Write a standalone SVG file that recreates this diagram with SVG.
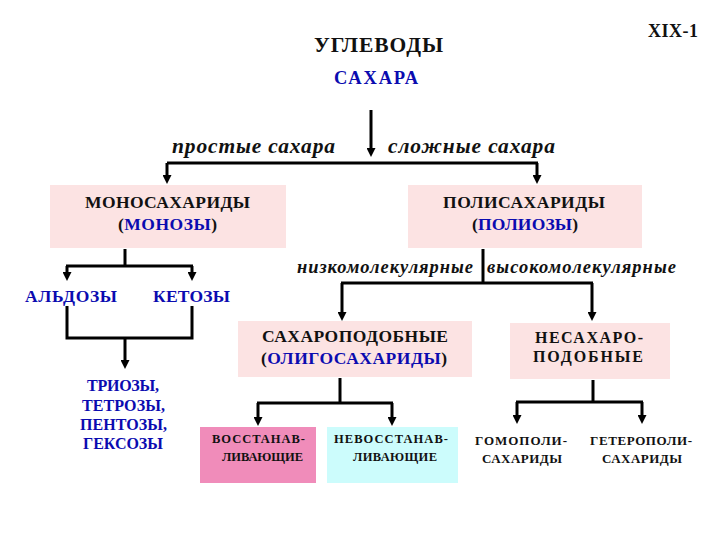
<svg xmlns="http://www.w3.org/2000/svg" width="720" height="540" viewBox="0 0 720 540">
<style>
text{font-family:'Liberation Serif','Times New Roman','DejaVu Serif',serif;font-weight:bold;fill:#111;}
.c{text-anchor:middle;}
.b{fill:#0b0bb0;}
.it{font-style:italic;}
.box{fill:#fce3e3;}
.ln{fill:none;stroke:#000;stroke-width:3;}
.ar{marker-end:url(#ah);}
</style>
<defs>
<marker id="ah" viewBox="0 0 10 10" markerWidth="10" markerHeight="9" refX="1" refY="5" orient="auto" markerUnits="userSpaceOnUse">
<path d="M0,0 L10,5 L0,10 z" fill="#000"/>
</marker>
</defs>
<rect width="720" height="540" fill="#fff"/>

<g id="connectors">
<path class="ln ar" d="M371,110 V149"/>
<path class="ln" d="M167,163 H538"/>
<path class="ln ar" d="M167,163 V176"/>
<path class="ln ar" d="M537,163 V176"/>

<path class="ln" d="M125,249 V266"/>
<path class="ln" d="M66,266 H193"/>
<path class="ln ar" d="M67,266 V273"/>
<path class="ln ar" d="M192,266 V273"/>
<path class="ln" d="M67,306 V338 H192 V306"/>
<path class="ln ar" d="M125,338 V361"/>

<path class="ln" d="M483,249 V283"/>
<path class="ln" d="M341,283 H593"/>
<path class="ln ar" d="M342,283 V313"/>
<path class="ln ar" d="M592,283 V313"/>

<path class="ln" d="M340,378 V403"/>
<path class="ln" d="M257,403 H393"/>
<path class="ln ar" d="M258,403 V418"/>
<path class="ln ar" d="M392,403 V418"/>

<path class="ln" d="M593,380 V402"/>
<path class="ln" d="M516,402 H643"/>
<path class="ln ar" d="M517,402 V416"/>
<path class="ln ar" d="M642,402 V416"/>
</g>

<g id="title">
<text class="c" x="378.5" y="52" font-size="21.5" textLength="129">УГЛЕВОДЫ</text>
</g>
<g id="page-number">
<text class="c" x="673" y="37" font-size="18" textLength="50">XIX-1</text>
</g>
<g id="sahara">
<text class="c b" x="376" y="84" font-size="18.5" textLength="84">САХАРА</text>
</g>
<g id="label-simple">
<text class="c it" x="253.5" y="153" font-size="21.5" textLength="163">простые сахара</text>
</g>
<g id="label-complex">
<text class="c it" x="471.5" y="153" font-size="21.5" textLength="167">сложные сахара</text>
</g>

<g id="monosaccharides">
<rect class="box" x="50" y="185" width="236" height="63"/>
<text class="c" x="167.5" y="208" font-size="17.5" textLength="165">МОНОСАХАРИДЫ</text>
<text class="c" x="167.5" y="230" font-size="17.5" textLength="99">(<tspan class="b">МОНОЗЫ</tspan>)</text>
</g>

<g id="polysaccharides">
<rect class="box" x="408" y="185" width="234" height="63"/>
<text class="c" x="524" y="208" font-size="17.5" textLength="162">ПОЛИСАХАРИДЫ</text>
<text class="c" x="525" y="230" font-size="17.5" textLength="106">(<tspan class="b">ПОЛИОЗЫ</tspan>)</text>
</g>

<g id="aldozy">
<text class="c b" x="71" y="302" font-size="17.5" textLength="92">АЛЬДОЗЫ</text>
</g>
<g id="ketozy">
<text class="c b" x="191.5" y="302" font-size="17.5" textLength="77">КЕТОЗЫ</text>
</g>

<g id="trioses">
<text class="c b" x="123" y="391" font-size="16" textLength="72">ТРИОЗЫ,</text>
<text class="c b" x="123.5" y="411" font-size="16" textLength="83">ТЕТРОЗЫ,</text>
<text class="c b" x="123.5" y="430" font-size="16" textLength="87">ПЕНТОЗЫ,</text>
<text class="c b" x="123" y="449" font-size="16" textLength="80">ГЕКСОЗЫ</text>
</g>

<g id="label-low">
<text class="c it" x="385" y="273" font-size="18.5" textLength="176">низкомолекулярные</text>
</g>
<g id="label-high">
<text class="c it" x="581.5" y="273" font-size="18.5" textLength="189">высокомолекулярные</text>
</g>

<g id="oligosaccharides">
<rect class="box" x="238" y="321" width="234" height="56"/>
<text class="c" x="355" y="342" font-size="17.5" textLength="186">САХАРОПОДОБНЫЕ</text>
<text class="c" x="354" y="364" font-size="17.5" textLength="186">(<tspan class="b">ОЛИГОСАХАРИДЫ</tspan>)</text>
</g>

<g id="non-sugarlike">
<rect class="box" x="510" y="323" width="160" height="56"/>
<text class="c" x="589" y="343" font-size="16" textLength="108">НЕСАХАРО-</text>
<text class="c" x="588" y="362" font-size="16" textLength="110">ПОДОБНЫЕ</text>
</g>

<g id="reducing">
<rect x="200" y="427" width="116" height="56" fill="#f08cba"/>
<text class="c" x="258.5" y="443" font-size="12.5" textLength="93">ВОССТАНАВ-</text>
<text class="c" x="262.5" y="461" font-size="12.5" textLength="81">ЛИВАЮЩИЕ</text>
</g>

<g id="non-reducing">
<rect x="327" y="427" width="131" height="56" fill="#ccfcfc"/>
<text class="c" x="391" y="443" font-size="12.5" textLength="114">НЕВОССТАНАВ-</text>
<text class="c" x="395" y="461" font-size="12.5" textLength="84">ЛИВАЮЩИЕ</text>
</g>

<g id="homopoly">
<text class="c" x="521" y="445" font-size="13" textLength="92">ГОМОПОЛИ-</text>
<text class="c" x="522" y="463" font-size="13" textLength="80">САХАРИДЫ</text>
</g>

<g id="heteropoly">
<text class="c" x="641" y="445" font-size="13" textLength="102">ГЕТЕРОПОЛИ-</text>
<text class="c" x="642" y="463" font-size="13" textLength="80">САХАРИДЫ</text>
</g>
</svg>
